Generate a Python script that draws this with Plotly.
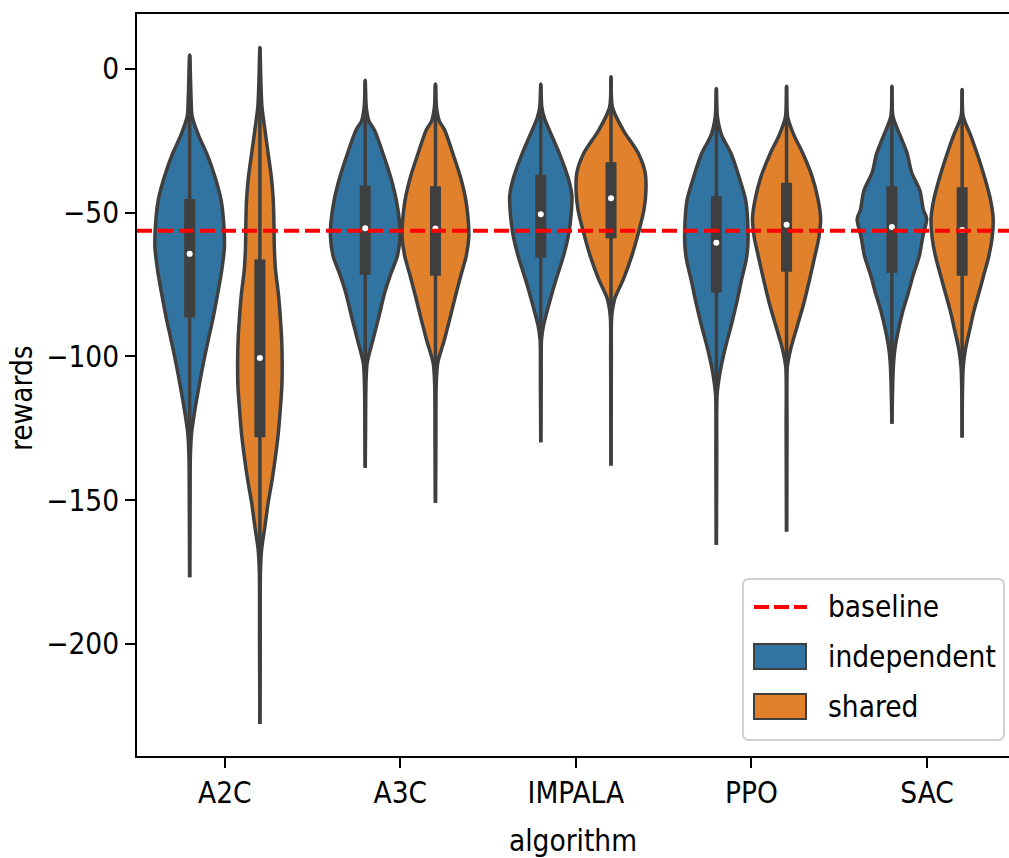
import plotly.graph_objects as go

# ---------------- data ----------------
algorithms = ["A2C", "A3C", "IMPALA", "PPO", "SAC"]
hues = ["independent", "shared"]
baseline = -56.3

# inner box statistics (upper quartile, median, lower quartile, whisker ends)
ind_q3 = [-45.2, -40.5, -36.8, -44.3, -40.8]
ind_med = [-64.3, -55.4, -50.5, -60.4, -55.0]
ind_q1 = [-86.4, -71.6, -65.6, -77.7, -70.9]
ind_hi = [4.9, -3.9, -5.2, -6.8, -6.0]
ind_lo = [-176.8, -138.7, -129.8, -165.5, -123.4]

shr_q3 = [-66.3, -40.8, -32.4, -39.6, -41.1]
shr_med = [-100.5, -55.5, -45.0, -54.2, -56.0]
shr_q1 = [-128.1, -71.9, -58.9, -70.5, -71.9]
shr_hi = [7.5, -5.2, -2.7, -6.0, -7.1]
shr_lo = [-227.8, -150.9, -137.9, -160.9, -128.2]

# density profiles: reward levels and half-widths (category units)
a2c_ind_lv = [4.9, -10.0, -16.5, -23.0, -29.4, -37.5, -45.6, -53.7, -61.8, -69.9, -78.0, -86.1,
              -94.2, -102.3, -110.4, -118.5, -126.6, -134.7, -150.0, -176.8]
a2c_ind_w = [0, 0.008, 0.014, 0.05, 0.097, 0.144, 0.179, 0.194, 0.198, 0.183, 0.16, 0.135,
             0.106, 0.078, 0.053, 0.030, 0.011, 0.004, 0.002, 0]
a2c_shr_lv = [7.5, -5.2, -13.3, -21.3, -29.4, -37.5, -45.6, -53.7, -61.8, -69.9, -78.0, -86.1,
              -94.2, -102.3, -110.4, -118.5, -126.6, -134.7, -142.8, -150.9, -159.0, -167.1,
              -175.2, -200.0, -227.8]
a2c_shr_w = [0, 0.006, 0.012, 0.029, 0.047, 0.065, 0.076, 0.080, 0.082, 0.089, 0.105, 0.116,
             0.124, 0.127, 0.125, 0.116, 0.105, 0.089, 0.070, 0.047, 0.029, 0.010,
             0.003, 0.002, 0]
a3c_ind_lv = [-3.9, -13.3, -18.1, -21.3, -29.4, -37.5, -45.6, -53.7, -58.6, -65.1, -71.5, -78.0,
              -86.1, -94.2, -102.3, -110.4, -125.0, -138.7]
a3c_ind_w = [0, 0.006, 0.021, 0.053, 0.101, 0.144, 0.177, 0.196, 0.198, 0.183, 0.144, 0.110,
             0.078, 0.044, 0.011, 0.004, 0.002, 0]
a3c_shr_lv = [-5.2, -13.3, -18.1, -21.3, -29.4, -37.5, -45.6, -53.7, -58.6, -65.1, -71.5, -78.0,
              -86.1, -94.2, -102.3, -110.4, -130.0, -150.9]
a3c_shr_w = [0, 0.006, 0.022, 0.053, 0.099, 0.142, 0.173, 0.188, 0.190, 0.175, 0.146, 0.118,
             0.085, 0.051, 0.013, 0.004, 0.002, 0]
imp_ind_lv = [-5.2, -13.3, -17.0, -21.3, -29.4, -37.5, -44.0, -50.5, -57.0, -65.1, -73.2, -81.3,
              -89.4, -94.2, -110.0, -129.8]
imp_ind_w = [0, 0.006, 0.02, 0.049, 0.106, 0.154, 0.177, 0.173, 0.160, 0.129, 0.087, 0.049,
             0.015, 0.004, 0.002, 0]
imp_shr_lv = [-2.7, -13.3, -21.3, -29.4, -35.9, -42.4, -48.9, -57.0, -65.1, -73.2, -79.6, -86.1,
              -100.0, -137.9]
imp_shr_w = [0, 0.008, 0.07, 0.156, 0.194, 0.199, 0.188, 0.156, 0.118, 0.07, 0.023, 0.004,
             0.002, 0]
ppo_ind_lv = [-6.8, -16.5, -23.0, -29.4, -37.5, -45.6, -53.7, -61.8, -66.7, -73.2, -81.3, -89.4,
              -97.5, -105.5, -113.6, -135.0, -165.5]
ppo_ind_w = [0, 0.006, 0.030, 0.084, 0.129, 0.167, 0.179, 0.179, 0.169, 0.144, 0.116, 0.084,
             0.049, 0.021, 0.004, 0.002, 0]
ppo_shr_lv = [-6.0, -16.5, -23.0, -29.4, -37.5, -45.6, -52.1, -58.6, -65.1, -73.2, -81.3, -89.4,
              -97.5, -103.9, -125.0, -160.9]
ppo_shr_w = [0, 0.006, 0.042, 0.093, 0.146, 0.180, 0.194, 0.184, 0.161, 0.131, 0.099, 0.061,
             0.023, 0.004, 0.002, 0]
sac_ind_lv = [-6.0, -16.5, -23.0, -29.4, -35.9, -42.4, -48.9, -52.1, -58.6, -65.1, -71.5, -78.0,
              -84.5, -91.0, -97.5, -103.9, -123.4]
sac_ind_w = [0, 0.006, 0.046, 0.087, 0.112, 0.160, 0.179, 0.198, 0.175, 0.156, 0.122, 0.093,
             0.061, 0.036, 0.017, 0.008, 0]
sac_shr_lv = [-7.1, -16.5, -23.0, -29.4, -37.5, -45.6, -52.1, -58.6, -65.1, -71.5, -78.0, -84.5,
              -91.0, -97.5, -103.9, -128.2]
sac_shr_w = [0, 0.006, 0.048, 0.085, 0.127, 0.162, 0.177, 0.171, 0.152, 0.124, 0.095, 0.066,
             0.042, 0.019, 0.006, 0]

profiles = {
    "independent": [(a2c_ind_lv, a2c_ind_w), (a3c_ind_lv, a3c_ind_w), (imp_ind_lv, imp_ind_w),
                    (ppo_ind_lv, ppo_ind_w), (sac_ind_lv, sac_ind_w)],
    "shared": [(a2c_shr_lv, a2c_shr_w), (a3c_shr_lv, a3c_shr_w), (imp_shr_lv, imp_shr_w),
               (ppo_shr_lv, ppo_shr_w), (sac_shr_lv, sac_shr_w)],
}
stats = {
    "independent": (ind_q3, ind_med, ind_q1, ind_hi, ind_lo),
    "shared": (shr_q3, shr_med, shr_q1, shr_hi, shr_lo),
}

# ---------------- style ----------------
colors = {"independent": "#3274a1", "shared": "#e1812c"}
dodge = {"independent": -0.2, "shared": 0.2}
edge = "#3f3f3f"
FONT = "DejaVu Sans Condensed, DejaVu Sans"
FS = 29.5
x_range = [-0.5, 4.467]
y_range = [-238.96, 19.13]
W, H = 1009, 858
ML, MR, MT, MB = 137, 0, 14, 102


def px_x(p):
    return (p - ML) / (W - ML - MR)


def px_y(p):
    return (H - MB - p) / (H - MT - MB)


fig = go.Figure()

for hue in hues:
    q3s, meds, q1s, his, los = stats[hue]
    for i, alg in enumerate(algorithms):
        c = i + dodge[hue]
        lv, w = profiles[hue][i]
        xs = [c + v for v in w] + [c - v for v in reversed(w)]
        ys = list(lv) + list(reversed(lv))
        fig.add_trace(go.Scatter(
            x=xs, y=ys, mode="lines", fill="toself", fillcolor=colors[hue],
            line=dict(color=edge, width=3.5, shape="spline", smoothing=0.8),
            name=hue, showlegend=False, hoverinfo="skip"))
        fig.add_trace(go.Scatter(x=[c, c], y=[his[i], los[i]], mode="lines",
                                 line=dict(color=edge, width=3.5), showlegend=False, hoverinfo="skip"))
        fig.add_trace(go.Scatter(x=[c, c], y=[q3s[i], q1s[i]], mode="lines",
                                 line=dict(color=edge, width=11), showlegend=False, hoverinfo="skip"))
        fig.add_trace(go.Scatter(x=[c], y=[meds[i]], mode="markers",
                                 marker=dict(color="white", size=6, line=dict(width=0)),
                                 showlegend=False, hoverinfo="skip"))

fig.add_trace(go.Scatter(x=x_range, y=[baseline, baseline], mode="lines",
                         line=dict(color="red", width=4, dash="15px,6px"),
                         name="baseline", showlegend=False, hoverinfo="skip"))

# ---------------- legend (drawn box) ----------------
lx0, lx1, ly0, ly1, r = 743, 1004, 579, 740, 6
box_path = (f"M {px_x(lx0 + r)} {px_y(ly0)} L {px_x(lx1 - r)} {px_y(ly0)} "
            f"Q {px_x(lx1)} {px_y(ly0)} {px_x(lx1)} {px_y(ly0 + r)} "
            f"L {px_x(lx1)} {px_y(ly1 - r)} Q {px_x(lx1)} {px_y(ly1)} {px_x(lx1 - r)} {px_y(ly1)} "
            f"L {px_x(lx0 + r)} {px_y(ly1)} Q {px_x(lx0)} {px_y(ly1)} {px_x(lx0)} {px_y(ly1 - r)} "
            f"L {px_x(lx0)} {px_y(ly0 + r)} Q {px_x(lx0)} {px_y(ly0)} {px_x(lx0 + r)} {px_y(ly0)} Z")
shapes = [dict(type="path", xref="paper", yref="paper", path=box_path,
               fillcolor="rgba(255,255,255,0.85)", line=dict(color="#d0d0d0", width=2), layer="above")]
shapes.append(dict(type="line", xref="paper", yref="paper", x0=px_x(754), x1=px_x(807),
                   y0=px_y(607), y1=px_y(607), line=dict(color="red", width=4, dash="15px,5px"),
                   layer="above"))
for hue, (yt, yb) in zip(hues, [(644, 669), (694, 719)]):
    shapes.append(dict(type="rect", xref="paper", yref="paper", x0=px_x(754), x1=px_x(806),
                       y0=px_y(yb), y1=px_y(yt), fillcolor=colors[hue],
                       line=dict(color=edge, width=2), layer="above"))
legend_labels = ["baseline"] + hues
annotations = [dict(xref="paper", yref="paper", x=px_x(826), y=px_y(yc), text=t, showarrow=False,
                    xanchor="left", yanchor="middle", font=dict(family=FONT, size=FS, color="black"))
               for t, yc in zip(legend_labels, [607, 657, 707])]
# y-axis title (placed as in the reference)
annotations.append(dict(xref="paper", yref="paper", x=px_x(22), y=px_y(398), text="rewards",
                        textangle=-90, showarrow=False, xanchor="center", yanchor="middle",
                        font=dict(family=FONT, size=FS, color="black")))

fig.update_layout(
    width=W, height=H,
    margin=dict(l=ML, r=MR, t=MT, b=MB),
    plot_bgcolor="white", paper_bgcolor="white",
    font=dict(family=FONT, size=FS, color="black"),
    showlegend=False,
    shapes=shapes, annotations=annotations,
    xaxis=dict(range=x_range, tickmode="array", tickvals=list(range(len(algorithms))),
               ticktext=algorithms, showline=True, linecolor="black", linewidth=2, mirror=True,
               ticks="outside", ticklen=10, tickwidth=2, tickcolor="black",
               showgrid=False, zeroline=False,
               title=dict(text="algorithm", standoff=22, font=dict(family=FONT, size=FS))),
    yaxis=dict(range=y_range, tickmode="array", tickvals=[0, -50, -100, -150, -200],
               ticktext=["0", "\u221250", "\u2212100", "\u2212150", "\u2212200"],
               showline=True, linecolor="black", linewidth=2, mirror=False,
               ticks="outside", ticklen=10, tickwidth=2, tickcolor="black",
               showgrid=False, zeroline=False),
)

fig.write_html("out.html")
